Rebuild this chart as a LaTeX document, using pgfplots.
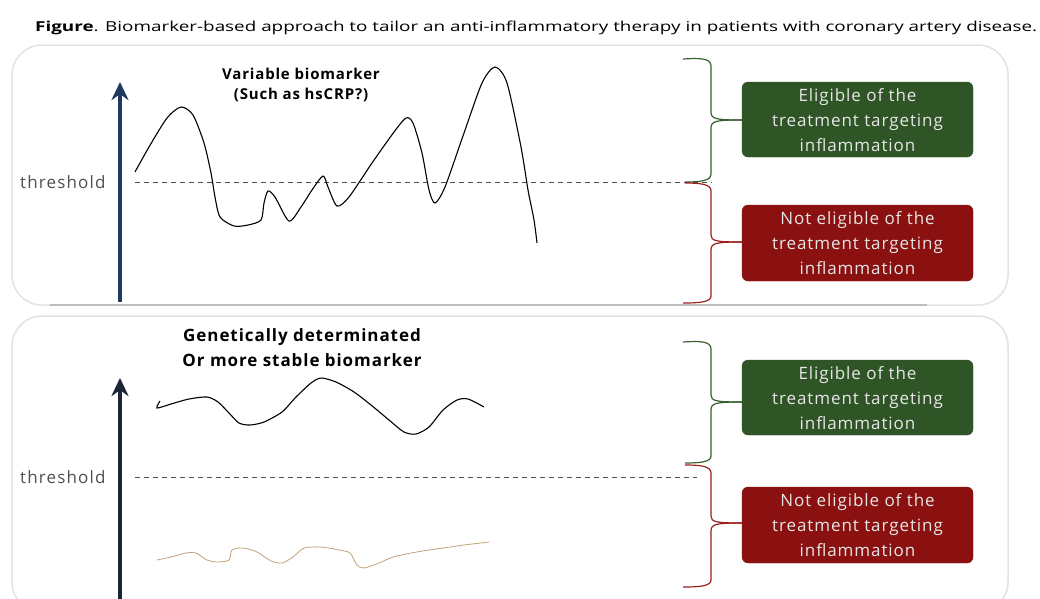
\documentclass[border=0pt]{standalone}
\usepackage{pgfplots}
\pgfplotsset{compat=1.18}
\usepackage{fontspec}
\setmainfont{Open Sans}
\newfontfamily\spaced{Open Sans}[LetterSpace=5.5]
\newfontfamily\wspaced{Open Sans}[LetterSpace=6.8]
\usetikzlibrary{arrows.meta}
\definecolor{panel}{HTML}{E2E2E2}
\definecolor{panelb}{HTML}{BDBDBD}
\definecolor{navy}{HTML}{1F3A5F}
\definecolor{navyd}{HTML}{1A2633}
\definecolor{thr}{HTML}{505050}
\definecolor{egreen}{HTML}{2F5526}
\definecolor{bgreen}{HTML}{3A5F2E}
\definecolor{ered}{HTML}{8B1010}
\definecolor{bred}{HTML}{9A2020}
\definecolor{boxtext}{HTML}{E6E6E6}
\definecolor{tan}{HTML}{C4A27A}
\begin{document}
\begin{tikzpicture}
\begin{axis}[scale only axis, width=1040pt, height=598pt,
  xmin=0, xmax=1040, ymin=0, ymax=598, y dir=reverse,
  hide axis, clip=false]
% panels
\draw[panel, line width=1.5pt, fill=white, rounded corners=30pt] (12,45) rectangle (1008,305);
\draw[panel, line width=1.5pt, fill=white, rounded corners=30pt] (12,316) rectangle (1008,612);
\draw[panelb, line width=1.5pt] (50,305) -- (927,305);
% title
\node[anchor=base west, inner sep=0pt] at (35,31) {\resizebox{1002pt}{10.5pt}{\textbf{Figure}. Biomarker-based approach to tailor an anti-inflammatory therapy in patients with coronary artery disease.}};
% ---------- top panel ----------
\draw[navy, line width=3.2pt, -{Stealth[length=18pt,width=17pt]}] (120,302) -- (120,82);
\node[anchor=west, text=thr, font=\wspaced\fontsize{17}{18}\selectfont, inner sep=0pt] at (20,182) {threshold};
\draw[thr, line width=0.9pt, dash pattern=on 5pt off 4pt] (135,182) -- (712,182);
\node[align=center, font=\spaced\bfseries\fontsize{15}{20}\selectfont] at (301,85) {Variable biomarker\\(Such as hsCRP?)};
\addplot[black, line width=1.1pt, smooth, tension=0.45] coordinates {
(135,172) (149,147) (167,118) (181,107) (193,115) (204,143) (211,173) (215,197)
(220,217) (234,226) (248,225) (261,220) (264,203) (268,191) (275,197) (289,221)
(301,207) (312,190) (323,176) (328,187) (337,206) (349,197) (372,163) (394,132)
(406,118) (413,123) (422,153) (429,190) (435,203) (445,187) (464,133) (482,83)
(495,67) (507,83) (521,147) (528,190) (534,220) (537,243)};
% braces top
\draw[bgreen, line width=1.2pt] (683,59) .. controls (700,58) and (711,58) .. (711,66) -- (711,112) .. controls (711,119) and (716,120) .. (742,120);
\draw[bgreen, line width=1.2pt] (742,120) .. controls (716,120) and (711,121) .. (711,128) -- (711,174) .. controls (711,181) and (700,182) .. (685,182);
\draw[bred, line width=1.2pt] (685,183) .. controls (700,183) and (711,184) .. (711,191) -- (711,235) .. controls (711,241) and (716,242) .. (742,242);
\draw[bred, line width=1.2pt] (742,242) .. controls (716,242) and (711,243) .. (711,250) -- (711,296) .. controls (711,302) and (700,303) .. (683,303);
\draw[egreen, fill=egreen, rounded corners=6pt] (742,82) rectangle (973,157);
\node[align=center, text=boxtext, font=\spaced\fontsize{17}{25}\selectfont] at (857.5,120) {Eligible of the\\treatment targeting\\inflammation};
\draw[ered, fill=ered, rounded corners=6pt] (742,205) rectangle (973,281);
\node[align=center, text=boxtext, font=\spaced\fontsize{17}{25}\selectfont] at (857.5,243) {Not eligible of the\\treatment targeting\\inflammation};
% ---------- bottom panel ----------
\draw[navyd, line width=3.2pt, -{Stealth[length=18pt,width=17pt]}] (120,605) -- (120,378);
\node[anchor=west, text=thr, font=\wspaced\fontsize{17}{18}\selectfont, inner sep=0pt] at (20,477) {threshold};
\draw[thr, line width=0.9pt, dash pattern=on 5pt off 4pt] (135,477) -- (697,477);
\node[align=center, font=\spaced\bfseries\fontsize{17}{25}\selectfont] at (302,347.5) {Genetically determinated\\Or more stable biomarker};
\addplot[black, line width=1.1pt, smooth, tension=0.45] coordinates {
(160,401) (157,408) (171,404) (189,399) (207,397) (218,402) (229,413) (239,423)
(250,425) (264,422) (282,412) (296,397) (311,383) (321,378) (336,382) (354,392)
(371,405) (389,420) (404,432) (416,434) (429,427) (443,410) (457,400) (468,399) (484,407)};
\addplot[tan, line width=0.8pt, smooth, tension=0.45] coordinates {
(157,560) (171,557) (186,553) (196,553) (207,560) (218,562) (229,560) (232,550)
(243,548) (257,552) (271,561) (282,563) (293,557) (304,548) (321,547) (339,550)
(350,553) (357,565) (364,568) (379,563) (393,557) (411,553) (429,550) (450,547)
(464,545) (489,542)};
% braces bottom
\draw[bgreen, line width=1.2pt] (683,342) .. controls (700,341) and (711,341) .. (711,349) -- (711,395) .. controls (711,401) and (716,402) .. (742,402);
\draw[bgreen, line width=1.2pt] (742,402) .. controls (716,402) and (711,403) .. (711,410) -- (711,456) .. controls (711,462) and (700,463) .. (685,463);
\draw[bred, line width=1.2pt] (685,465) .. controls (700,465) and (711,466) .. (711,473) -- (711,516) .. controls (711,522) and (716,523) .. (742,523);
\draw[bred, line width=1.2pt] (742,523) .. controls (716,523) and (711,524) .. (711,531) -- (711,580) .. controls (711,586) and (700,587) .. (683,587);
\draw[egreen, fill=egreen, rounded corners=6pt] (742,360) rectangle (973,435);
\node[align=center, text=boxtext, font=\spaced\fontsize{17}{25}\selectfont] at (857.5,398) {Eligible of the\\treatment targeting\\inflammation};
\draw[ered, fill=ered, rounded corners=6pt] (742,487) rectangle (973,563);
\node[align=center, text=boxtext, font=\spaced\fontsize{17}{25}\selectfont] at (857.5,525) {Not eligible of the\\treatment targeting\\inflammation};
\end{axis}
\pgfresetboundingbox
\path[use as bounding box] (0,0) rectangle (1040pt,598pt);
\end{tikzpicture}
\end{document}
